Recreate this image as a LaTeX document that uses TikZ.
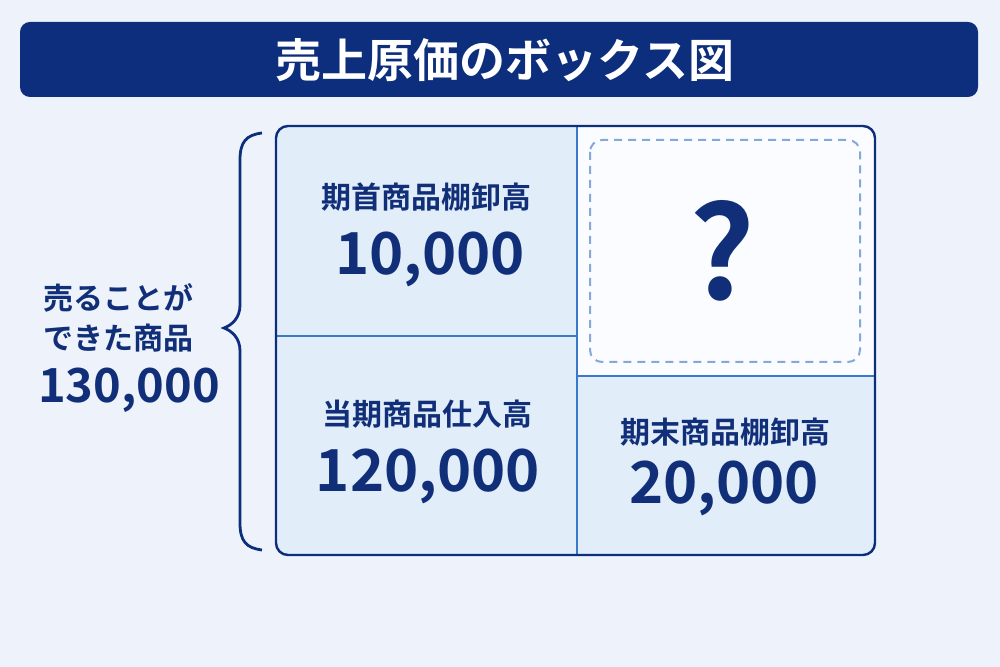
\documentclass[tikz,border=0pt]{standalone}
\usepackage{fontspec}
\setmainfont{Noto Sans CJK JP}[BoldFont={* Bold}]
\definecolor{navy}{HTML}{0C2E7C}
\definecolor{txt}{HTML}{112F78}
\definecolor{bg}{HTML}{EEF3FB}
\definecolor{cell}{HTML}{E2EDFA}
\definecolor{white2}{HTML}{FAFCFF}
\definecolor{divider}{HTML}{3A78CC}
\definecolor{dashc}{HTML}{86A8D8}
\tikzset{
  lbl/.style={text=txt,font=\bfseries\fontsize{15}{18}\selectfont,inner sep=0pt},
  num/.style={text=txt,font=\bfseries\fontsize{29}{34}\selectfont,inner sep=0pt},
}
\begin{document}
\begin{tikzpicture}[x=0.5pt,y=-0.5pt]
\fill[bg] (0,0) rectangle (1000,667);
\useasboundingbox (0,0) rectangle (1000,667);
% title
\node[fill=navy,rounded corners=5pt,minimum width=479pt,minimum height=37.5pt,inner sep=0pt] (titlebar) at (499,59.5) {};
\node[text=white,font=\bfseries\fontsize{23}{26}\selectfont,inner sep=0pt] (title) at (505,60) {売上原価のボックス図};
% box
\begin{scope}
\clip[rounded corners=6pt] (276,126) rectangle (875,555);
\fill[cell] (276,126) rectangle (875,555);
\fill[white2] (577,126) rectangle (875,376);
\end{scope}
\draw[divider,line width=0.8pt] (577,126) -- (577,555);
\draw[divider,line width=0.8pt] (276,336) -- (577,336);
\draw[divider,line width=0.8pt] (577,376) -- (875,376);
\draw[navy,line width=1.2pt,rounded corners=6pt] (276,126) rectangle (875,555);
\draw[dashc,line width=1pt,dash pattern=on 4pt off 3pt,rounded corners=6pt] (590,140) rectangle (860,362);
% texts
\node[lbl] (l1) at (426,197) {期首商品棚卸高};
\node[num] (n1) at (430,259) {10,000};
\node[text=txt,font=\bfseries\fontsize{64}{70}\selectfont,inner sep=0pt] (q) at (722,251) {?};
\node[lbl] (l2) at (427,414) {当期商品仕入高};
\node[num] (n2) at (428,476) {120,000};
\node[lbl] (l3) at (725,432) {期末商品棚卸高};
\node[num] (n3) at (724,488) {20,000};
% left
\node[text=txt,font=\bfseries\fontsize{15}{20}\selectfont,inner sep=0pt] (s1) at (118,298) {売ることが};
\node[text=txt,font=\bfseries\fontsize{15}{20}\selectfont,inner sep=0pt] (s2) at (118,338) {できた商品};
\node[text=txt,font=\bfseries\fontsize{23.5}{28}\selectfont,inner sep=0pt] (s3) at (129,390) {130,000};
% brace
\draw[navy,line width=1.4pt] (262,133) .. controls (246,135) and (240,142) .. (240,160)
  -- (240,305) .. controls (240,318) and (232,325) .. (224,328)
  .. controls (232,331) and (240,338) .. (240,351)
  -- (240,523) .. controls (240,541) and (246,548) .. (262,550);
\end{tikzpicture}
\end{document}
